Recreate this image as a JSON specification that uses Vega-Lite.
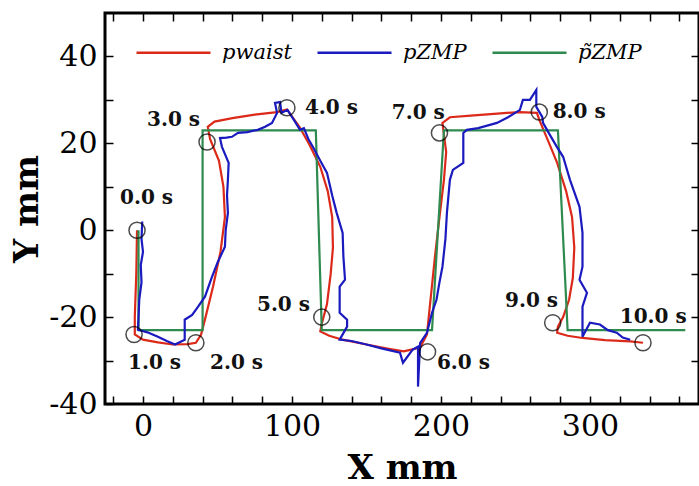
{
  "$schema": "https://vega.github.io/schema/vega-lite/v6.json",
  "width": 594,
  "height": 391,
  "autosize": {"type": "none"},
  "padding": {"left": 105, "top": 13, "right": 0, "bottom": 82},
  "background": "white",
  "config": {
    "view": {"stroke": "black", "strokeWidth": 3},
    "axis": {"grid": false, "domain": false, "tickColor": "black", "tickWidth": 1.5, "tickSize": -8, "labelColor": "black", "labelFont": "DejaVu Serif", "labelFontSize": 30, "labelFlush": false, "labelOverlap": false, "titleFont": "DejaVu Serif", "titleFontWeight": "bold", "titleFontSize": 34, "titleColor": "black"}
  },
  "datasets": {
    "curves": [
      {"s":"pwaist","i":1,"x":-4,"y":0},{"s":"pwaist","i":2,"x":-4.5,"y":-10},{"s":"pwaist","i":3,"x":-5.5,"y":-20},{"s":"pwaist","i":4,"x":-5.5,"y":-24},{"s":"pwaist","i":5,"x":0,"y":-25.2},{"s":"pwaist","i":6,"x":10,"y":-25.8},{"s":"pwaist","i":7,"x":20,"y":-26.3},{"s":"pwaist","i":8,"x":30,"y":-26.2},{"s":"pwaist","i":9,"x":35.5,"y":-25.9},{"s":"pwaist","i":10,"x":39,"y":-24},{"s":"pwaist","i":11,"x":42,"y":-20},{"s":"pwaist","i":12,"x":47,"y":-13},{"s":"pwaist","i":13,"x":52,"y":-5},{"s":"pwaist","i":14,"x":55,"y":3},{"s":"pwaist","i":15,"x":54,"y":10},{"s":"pwaist","i":16,"x":51,"y":16},{"s":"pwaist","i":17,"x":45,"y":21},{"s":"pwaist","i":18,"x":43.5,"y":23.8},{"s":"pwaist","i":19,"x":48,"y":25},{"s":"pwaist","i":20,"x":60,"y":25.8},{"s":"pwaist","i":21,"x":75,"y":26.6},{"s":"pwaist","i":22,"x":90,"y":27.2},{"s":"pwaist","i":23,"x":96.6,"y":27.8},{"s":"pwaist","i":24,"x":105,"y":23.8},{"s":"pwaist","i":25,"x":112,"y":19.5},{"s":"pwaist","i":26,"x":119,"y":14.6},{"s":"pwaist","i":27,"x":124,"y":9},{"s":"pwaist","i":28,"x":127,"y":3},{"s":"pwaist","i":29,"x":127.5,"y":-4},{"s":"pwaist","i":30,"x":126,"y":-10},{"s":"pwaist","i":31,"x":123.5,"y":-17},{"s":"pwaist","i":32,"x":120,"y":-21.5},{"s":"pwaist","i":33,"x":119,"y":-23.3},{"s":"pwaist","i":34,"x":125,"y":-24.3},{"s":"pwaist","i":35,"x":134,"y":-25.2},{"s":"pwaist","i":36,"x":150,"y":-26.3},{"s":"pwaist","i":37,"x":165,"y":-27.3},{"s":"pwaist","i":38,"x":175,"y":-27.9},{"s":"pwaist","i":39,"x":186,"y":-27},{"s":"pwaist","i":40,"x":190.6,"y":-24},{"s":"pwaist","i":41,"x":193,"y":-16},{"s":"pwaist","i":42,"x":196,"y":-6},{"s":"pwaist","i":43,"x":199,"y":3},{"s":"pwaist","i":44,"x":202,"y":11.6},{"s":"pwaist","i":45,"x":203.5,"y":18},{"s":"pwaist","i":46,"x":202,"y":22},{"s":"pwaist","i":47,"x":201,"y":24.7},{"s":"pwaist","i":48,"x":206,"y":26},{"s":"pwaist","i":49,"x":220,"y":26.4},{"s":"pwaist","i":50,"x":240,"y":26.9},{"s":"pwaist","i":51,"x":253,"y":27.2},{"s":"pwaist","i":52,"x":264.4,"y":27},{"s":"pwaist","i":53,"x":266,"y":25.4},{"s":"pwaist","i":54,"x":272,"y":20.5},{"s":"pwaist","i":55,"x":278,"y":15.5},{"s":"pwaist","i":56,"x":284,"y":9},{"s":"pwaist","i":57,"x":288,"y":3},{"s":"pwaist","i":58,"x":289.5,"y":-4},{"s":"pwaist","i":59,"x":288.5,"y":-11},{"s":"pwaist","i":60,"x":286,"y":-16},{"s":"pwaist","i":61,"x":282,"y":-20},{"s":"pwaist","i":62,"x":278.5,"y":-22.2},{"s":"pwaist","i":63,"x":278,"y":-23.6},{"s":"pwaist","i":64,"x":285,"y":-24.3},{"s":"pwaist","i":65,"x":295,"y":-24.8},{"s":"pwaist","i":66,"x":310,"y":-25.3},{"s":"pwaist","i":67,"x":327,"y":-25.6},{"s":"pwaist","i":68,"x":335.6,"y":-25.9},
      {"s":"p\u0303ZMP","i":1,"x":-3,"y":0},{"s":"p\u0303ZMP","i":2,"x":-3,"y":-23},{"s":"p\u0303ZMP","i":3,"x":40,"y":-23},{"s":"p\u0303ZMP","i":4,"x":40,"y":23},{"s":"p\u0303ZMP","i":5,"x":116,"y":23},{"s":"p\u0303ZMP","i":6,"x":120,"y":-23},{"s":"p\u0303ZMP","i":7,"x":194,"y":-23},{"s":"p\u0303ZMP","i":8,"x":202,"y":23},{"s":"p\u0303ZMP","i":9,"x":278.5,"y":23},{"s":"p\u0303ZMP","i":10,"x":285,"y":-23},{"s":"p\u0303ZMP","i":11,"x":364,"y":-23},
      {"s":"pZMP","i":1,"x":-0.5,"y":2},{"s":"pZMP","i":2,"x":-1,"y":-2},{"s":"pZMP","i":3,"x":0,"y":-5},{"s":"pZMP","i":4,"x":-1.5,"y":-8},{"s":"pZMP","i":5,"x":-1,"y":-12},{"s":"pZMP","i":6,"x":-2.5,"y":-16},{"s":"pZMP","i":7,"x":-3,"y":-20},{"s":"pZMP","i":8,"x":-3.4,"y":-22.9},{"s":"pZMP","i":9,"x":3,"y":-23.5},{"s":"pZMP","i":10,"x":10,"y":-24.5},{"s":"pZMP","i":11,"x":16,"y":-25.5},{"s":"pZMP","i":12,"x":21.5,"y":-26.3},{"s":"pZMP","i":13,"x":28,"y":-25.2},{"s":"pZMP","i":14,"x":28,"y":-20.6},{"s":"pZMP","i":15,"x":33,"y":-19.5},{"s":"pZMP","i":16,"x":37,"y":-17.6},{"s":"pZMP","i":17,"x":41.6,"y":-15.3},{"s":"pZMP","i":18,"x":46,"y":-11},{"s":"pZMP","i":19,"x":50,"y":-7.5},{"s":"pZMP","i":20,"x":55,"y":-3.8},{"s":"pZMP","i":21,"x":55.5,"y":0},{"s":"pZMP","i":22,"x":57,"y":4},{"s":"pZMP","i":23,"x":56.4,"y":8},{"s":"pZMP","i":24,"x":57,"y":11.6},{"s":"pZMP","i":25,"x":57.5,"y":15.5},{"s":"pZMP","i":26,"x":53,"y":19.2},{"s":"pZMP","i":27,"x":51.7,"y":21.2},{"s":"pZMP","i":28,"x":56,"y":21.3},{"s":"pZMP","i":29,"x":59.7,"y":21.5},{"s":"pZMP","i":30,"x":63.8,"y":22.4},{"s":"pZMP","i":31,"x":70,"y":22.6},{"s":"pZMP","i":32,"x":77,"y":23.1},{"s":"pZMP","i":33,"x":82,"y":23.8},{"s":"pZMP","i":34,"x":86.6,"y":24.7},{"s":"pZMP","i":35,"x":90,"y":27},{"s":"pZMP","i":36,"x":88.6,"y":29.3},{"s":"pZMP","i":37,"x":92,"y":29.5},{"s":"pZMP","i":38,"x":93,"y":27},{"s":"pZMP","i":39,"x":97,"y":27.7},{"s":"pZMP","i":40,"x":100,"y":26.1},{"s":"pZMP","i":41,"x":102,"y":25},{"s":"pZMP","i":42,"x":105.4,"y":23.1},{"s":"pZMP","i":43,"x":108,"y":23.5},{"s":"pZMP","i":44,"x":111,"y":21},{"s":"pZMP","i":45,"x":114,"y":19.2},{"s":"pZMP","i":46,"x":119,"y":16},{"s":"pZMP","i":47,"x":123.5,"y":13.2},{"s":"pZMP","i":48,"x":127,"y":8},{"s":"pZMP","i":49,"x":130,"y":4},{"s":"pZMP","i":50,"x":134,"y":-0.6},{"s":"pZMP","i":51,"x":134.5,"y":-6},{"s":"pZMP","i":52,"x":135.6,"y":-11.4},{"s":"pZMP","i":53,"x":132,"y":-13},{"s":"pZMP","i":54,"x":132,"y":-19},{"s":"pZMP","i":55,"x":137,"y":-20.6},{"s":"pZMP","i":56,"x":137,"y":-22.2},{"s":"pZMP","i":57,"x":132,"y":-25.2},{"s":"pZMP","i":58,"x":140,"y":-25.5},{"s":"pZMP","i":59,"x":150,"y":-26.3},{"s":"pZMP","i":60,"x":160,"y":-27.2},{"s":"pZMP","i":61,"x":172.5,"y":-28.2},{"s":"pZMP","i":62,"x":174.5,"y":-30.5},{"s":"pZMP","i":63,"x":181,"y":-27.5},{"s":"pZMP","i":64,"x":184.6,"y":-26.8},{"s":"pZMP","i":65,"x":184.6,"y":-36},{"s":"pZMP","i":66,"x":186,"y":-26},{"s":"pZMP","i":67,"x":190.6,"y":-23.6},{"s":"pZMP","i":68,"x":194,"y":-19},{"s":"pZMP","i":69,"x":197,"y":-16},{"s":"pZMP","i":70,"x":199,"y":-12},{"s":"pZMP","i":71,"x":201,"y":-8.4},{"s":"pZMP","i":72,"x":203,"y":-2},{"s":"pZMP","i":73,"x":204,"y":4},{"s":"pZMP","i":74,"x":206,"y":11.6},{"s":"pZMP","i":75,"x":208,"y":13.9},{"s":"pZMP","i":76,"x":215,"y":15.5},{"s":"pZMP","i":77,"x":215,"y":22.4},{"s":"pZMP","i":78,"x":217.4,"y":23.1},{"s":"pZMP","i":79,"x":225,"y":23.5},{"s":"pZMP","i":80,"x":237.6,"y":24.7},{"s":"pZMP","i":81,"x":245,"y":26},{"s":"pZMP","i":82,"x":253,"y":27.7},{"s":"pZMP","i":83,"x":255,"y":30},{"s":"pZMP","i":84,"x":259.7,"y":30},{"s":"pZMP","i":85,"x":264,"y":32.3},{"s":"pZMP","i":86,"x":264,"y":28.4},{"s":"pZMP","i":87,"x":268,"y":26.1},{"s":"pZMP","i":88,"x":268.5,"y":24.7},{"s":"pZMP","i":89,"x":273,"y":22},{"s":"pZMP","i":90,"x":277.8,"y":19.2},{"s":"pZMP","i":91,"x":282,"y":16.9},{"s":"pZMP","i":92,"x":286.6,"y":11.6},{"s":"pZMP","i":93,"x":293,"y":5.4},{"s":"pZMP","i":94,"x":295,"y":-0.6},{"s":"pZMP","i":95,"x":295,"y":-8.4},{"s":"pZMP","i":96,"x":293,"y":-11.4},{"s":"pZMP","i":97,"x":298,"y":-14.4},{"s":"pZMP","i":98,"x":295,"y":-17.6},{"s":"pZMP","i":99,"x":295,"y":-24.5},{"s":"pZMP","i":100,"x":300,"y":-21.3},{"s":"pZMP","i":101,"x":306.7,"y":-21.7},{"s":"pZMP","i":102,"x":312,"y":-23},{"s":"pZMP","i":103,"x":318,"y":-23.6},{"s":"pZMP","i":104,"x":322,"y":-24.7},{"s":"pZMP","i":105,"x":327,"y":-25.2}
    ],
    "marks": [
      {"t":"0.0 s","cx":-4,"cy":0,"lx":-15.4,"ly":7.5},
      {"t":"1.0 s","cx":-6,"cy":-24,"lx":-10,"ly":-30.5},
      {"t":"2.0 s","cx":35.5,"cy":-25.9,"lx":45,"ly":-30.5},
      {"t":"3.0 s","cx":43,"cy":20.3,"lx":2.7,"ly":25.4},
      {"t":"4.0 s","cx":96.6,"cy":28.2,"lx":108.7,"ly":28.2},
      {"t":"5.0 s","cx":120,"cy":-20,"lx":76.5,"ly":-17.1},
      {"t":"6.0 s","cx":191,"cy":-28,"lx":197.3,"ly":-30.5},
      {"t":"7.0 s","cx":199,"cy":22.4,"lx":167,"ly":27},
      {"t":"8.0 s","cx":266,"cy":27.2,"lx":275,"ly":27.2},
      {"t":"9.0 s","cx":275,"cy":-21.3,"lx":243,"ly":-16.4},
      {"t":"10.0 s","cx":335.6,"cy":-25.9,"lx":320,"ly":-19.9}
    ]
  },
  "layer": [
    {
      "data": {"name": "curves"},
      "mark": {"type": "line", "strokeWidth": 2.2, "clip": true},
      "encoding": {
        "x": {"field": "x", "type": "quantitative", "scale": {"domain": [-25.5, 373.2], "nice": false, "zero": false},
              "axis": {"orient": "bottom", "title": "X mm", "values": [-20,0,20,40,60,80,100,120,140,160,180,200,220,240,260,280,300,320,340,360], "labelExpr": "datum.value % 100 == 0 ? toString(datum.value) : ''", "labelPadding": 15, "titlePadding": 10}},
        "y": {"field": "y", "type": "quantitative", "scale": {"domain": [-40, 50], "nice": false, "zero": false},
              "axis": {"orient": "left", "title": "Y mm", "values": [-40,-30,-20,-10,0,10,20,30,40], "labelExpr": "datum.value % 20 == 0 ? toString(datum.value) : ''", "labelPadding": 16, "titlePadding": 4}},
        "color": {"field": "s", "type": "nominal",
                  "scale": {"domain": ["pwaist", "pZMP", "p\u0303ZMP"], "range": ["#dc2a1a", "#1a1abf", "#2e8a4e"]},
                  "legend": {"orient": "none", "legendX": 30, "legendY": 1, "direction": "horizontal", "title": null, "symbolType": "stroke", "symbolSize": 5476, "symbolStrokeWidth": 2.5, "labelFont": "DejaVu Serif", "labelFontStyle": "italic", "labelFontSize": 21, "labelColor": "black", "labelOffset": 10, "columnPadding": 20, "padding": 0}},
        "order": {"field": "i", "type": "quantitative"}
      }
    },
    {
      "data": {"name": "marks"},
      "mark": {"type": "point", "shape": "circle", "filled": false, "stroke": "black", "strokeWidth": 1.5, "size": 260},
      "encoding": {
        "x": {"field": "cx", "type": "quantitative", "axis": {"orient": "top", "title": null, "labels": false, "values": [-20,0,20,40,60,80,100,120,140,160,180,200,220,240,260,280,300,320,340,360]}},
        "y": {"field": "cy", "type": "quantitative", "axis": {"orient": "right", "title": null, "labels": false, "values": [-30,-20,-10,0,10,20,30,40]}}
      }
    },
    {
      "data": {"name": "marks"},
      "mark": {"type": "text", "align": "left", "baseline": "middle", "font": "DejaVu Serif", "fontWeight": "bold", "fontSize": 20, "color": "#111"},
      "encoding": {
        "x": {"field": "lx", "type": "quantitative", "axis": null},
        "y": {"field": "ly", "type": "quantitative", "axis": null},
        "text": {"field": "t"}
      }
    }
  ],
  "resolve": {"axis": {"x": "independent", "y": "independent"}}
}
